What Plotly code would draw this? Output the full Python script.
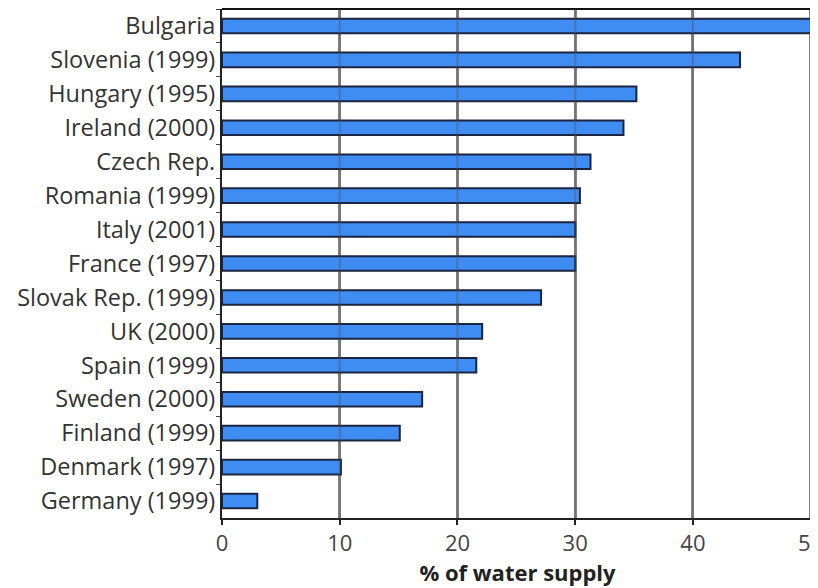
import plotly.graph_objects as go

countries = ["Bulgaria", "Slovenia (1999)", "Hungary (1995)", "Ireland (2000)", "Czech Rep.",
             "Romania (1999)", "Italy (2001)", "France (1997)", "Slovak Rep. (1999)", "UK (2000)",
             "Spain (1999)", "Sweden (2000)", "Finland (1999)", "Denmark (1997)", "Germany (1999)"]
values = [50.2, 44.0, 35.2, 34.1, 31.3, 30.4, 30.0, 30.0, 27.1, 22.1, 21.6, 17.0, 15.1, 10.1, 3.0]
xticks = [0, 10, 20, 30, 40, 50]

fig = go.Figure(go.Bar(
    x=values, y=countries, orientation="h",
    width=0.43,
    marker=dict(color="#3f8cf2", line=dict(color="#1b2440", width=2)),
    cliponaxis=False,
))

font = dict(family="Open Sans, sans-serif", size=22, color="#333333")

# gridlines also show faintly through the bars in the reference
grid_over = [dict(type="line", xref="x", yref="paper", x0=v, x1=v, y0=0, y1=1, layer="above",
                  line=dict(color="#555555", width=2), opacity=0.4) for v in xticks[1:]]

# page body has an 8px default margin, so the figure is 8px smaller and offset
fig.update_layout(
    width=810, height=580,
    margin=dict(l=214, r=5, t=1, b=70),
    plot_bgcolor="white", paper_bgcolor="white",
    showlegend=False,
    font=font,
    xaxis=dict(
        range=[0, 50.2], tickvals=xticks, showgrid=True, gridcolor="#8a8a8a", gridwidth=2.5,
        zeroline=False, showline=True, linecolor="#222222", linewidth=2, mirror=False,
        ticks="outside", ticklen=5, tickcolor="#222222", tickwidth=1.5, automargin=False,
        ticklabeloverflow="allow",
        tickfont=dict(size=22, color="#444444"),
        title=dict(text="<b>% of water supply</b>", font=dict(size=22, color="#222222"), standoff=2),
    ),
    yaxis=dict(
        autorange="reversed", showgrid=False, showline=True, linecolor="#222222", linewidth=2,
        ticks="outside", tickson="boundaries", ticklen=4, tickcolor="#444444",
        automargin=False, tickfont=dict(size=23.5, color="#333333"),
    ),
    shapes=[dict(type="line", xref="paper", yref="paper", x0=0, x1=1, y0=1, y1=1,
                 line=dict(color="#111111", width=2))] + grid_over,
)

fig.write_html("out.html")
